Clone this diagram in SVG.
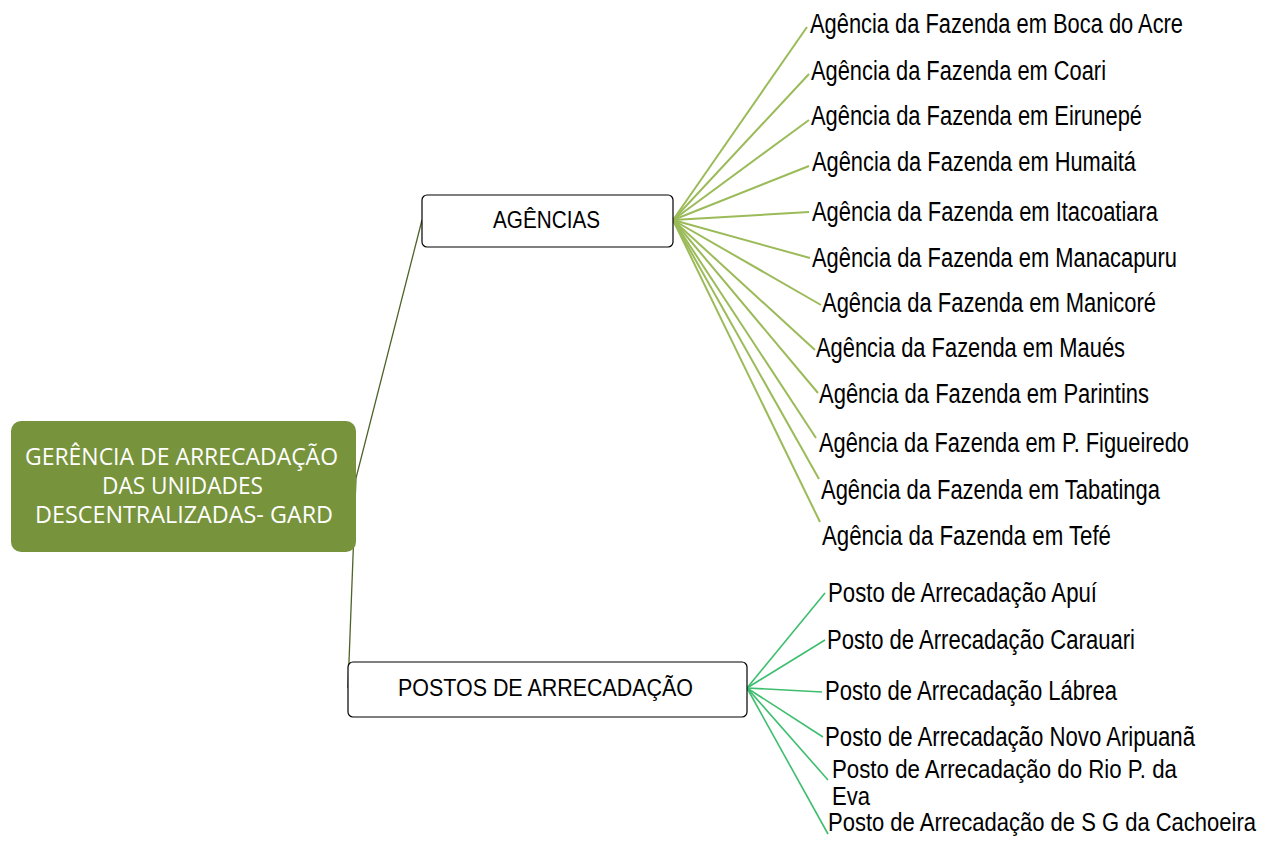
<svg xmlns="http://www.w3.org/2000/svg" width="1275" height="841" viewBox="0 0 1275 841">
<style>
.lbl{font-family:"Liberation Sans",Arial,sans-serif;font-size:27px;fill:#000}
.sm{font-size:25px}
.box{fill:#fff;stroke:#000;stroke-width:1.2}
.boxt{font-family:"Liberation Sans",Arial,sans-serif;font-size:24px;fill:#000}
.roott{font-family:"Open Sans","Noto Sans",sans-serif;font-size:23px;fill:#fff}
.ag{stroke:#9BBB59;stroke-width:2;fill:none}
.po{stroke:#3DBE6E;stroke-width:1.6;fill:none}
.trunk{stroke:#4F6228;stroke-width:1.3;fill:none}
</style>
<rect width="1275" height="841" fill="#fff"/>
<g id="connectors">
<polyline class="trunk" points="422,220 356,478 348,688"/>
<g class="ag">
<line x1="673" y1="220" x2="807" y2="27"/>
<line x1="673" y1="220" x2="809" y2="74"/>
<line x1="673" y1="220" x2="809" y2="120"/>
<line x1="673" y1="220" x2="809" y2="166"/>
<line x1="673" y1="220" x2="809" y2="212"/>
<line x1="673" y1="220" x2="810" y2="258"/>
<line x1="673" y1="220" x2="821" y2="305"/>
<line x1="673" y1="220" x2="815" y2="350"/>
<line x1="673" y1="220" x2="818" y2="393"/>
<line x1="673" y1="220" x2="816" y2="438"/>
<line x1="673" y1="220" x2="819" y2="479"/>
<line x1="673" y1="220" x2="820" y2="522"/>
</g>
<g class="po">
<line x1="747" y1="688" x2="825" y2="593"/>
<line x1="747" y1="688" x2="825" y2="640"/>
<line x1="747" y1="688" x2="822" y2="692"/>
<line x1="747" y1="688" x2="823" y2="737"/>
<line x1="747" y1="688" x2="828" y2="780"/>
<line x1="747" y1="688" x2="828" y2="834"/>
</g>
</g>
<g id="root">
<rect x="11" y="421" width="345" height="131" rx="10" fill="#77933C"/>
<text class="roott" x="25" y="465" textLength="313" lengthAdjust="spacingAndGlyphs">GERÊNCIA DE ARRECADAÇÃO</text>
<text class="roott" x="102" y="494" textLength="161" lengthAdjust="spacingAndGlyphs">DAS UNIDADES</text>
<text class="roott" x="35" y="523" textLength="298" lengthAdjust="spacingAndGlyphs">DESCENTRALIZADAS- GARD</text>
</g>
<g id="agencias">
<rect class="box" x="422" y="195" width="251" height="52" rx="5"/>
<text class="boxt" x="493" y="228" textLength="107" lengthAdjust="spacingAndGlyphs">AGÊNCIAS</text>
</g>
<g id="postos">
<rect class="box" x="348" y="662" width="399" height="55" rx="5"/>
<text class="boxt" x="398" y="696" textLength="295" lengthAdjust="spacingAndGlyphs">POSTOS DE ARRECADAÇÃO</text>
</g>
<g id="ag1"><text class="lbl" x="810" y="33" textLength="373" lengthAdjust="spacingAndGlyphs">Agência da Fazenda em Boca do Acre</text></g>
<g id="ag2"><text class="lbl" x="811" y="80" textLength="295" lengthAdjust="spacingAndGlyphs">Agência da Fazenda em Coari</text></g>
<g id="ag3"><text class="lbl" x="811" y="125" textLength="331" lengthAdjust="spacingAndGlyphs">Agência da Fazenda em Eirunepé</text></g>
<g id="ag4"><text class="lbl" x="812" y="171" textLength="324" lengthAdjust="spacingAndGlyphs">Agência da Fazenda em Humaitá</text></g>
<g id="ag5"><text class="lbl" x="812" y="221" textLength="346" lengthAdjust="spacingAndGlyphs">Agência da Fazenda em Itacoatiara</text></g>
<g id="ag6"><text class="lbl" x="812" y="267" textLength="365" lengthAdjust="spacingAndGlyphs">Agência da Fazenda em Manacapuru</text></g>
<g id="ag7"><text class="lbl" x="822" y="312" textLength="334" lengthAdjust="spacingAndGlyphs">Agência da Fazenda em Manicoré</text></g>
<g id="ag8"><text class="lbl" x="816" y="357" textLength="309" lengthAdjust="spacingAndGlyphs">Agência da Fazenda em Maués</text></g>
<g id="ag9"><text class="lbl" x="819" y="403" textLength="330" lengthAdjust="spacingAndGlyphs">Agência da Fazenda em Parintins</text></g>
<g id="ag10"><text class="lbl" x="819" y="452" textLength="370" lengthAdjust="spacingAndGlyphs">Agência da Fazenda em P.  Figueiredo</text></g>
<g id="ag11"><text class="lbl" x="821" y="499" textLength="339" lengthAdjust="spacingAndGlyphs">Agência da Fazenda em Tabatinga</text></g>
<g id="ag12"><text class="lbl" x="822" y="545" textLength="289" lengthAdjust="spacingAndGlyphs">Agência da Fazenda em Tefé</text></g>
<g id="po1"><text class="lbl" x="828" y="602" textLength="269" lengthAdjust="spacingAndGlyphs">Posto de Arrecadação Apuí</text></g>
<g id="po2"><text class="lbl" x="827" y="649" textLength="308" lengthAdjust="spacingAndGlyphs">Posto de Arrecadação Carauari</text></g>
<g id="po3"><text class="lbl" x="825" y="700" textLength="292" lengthAdjust="spacingAndGlyphs">Posto de Arrecadação Lábrea</text></g>
<g id="po4"><text class="lbl" x="825" y="746" textLength="370" lengthAdjust="spacingAndGlyphs">Posto de Arrecadação Novo Aripuanã</text></g>
<g id="po5"><text class="lbl sm" x="832" y="778" textLength="345" lengthAdjust="spacingAndGlyphs">Posto de Arrecadação do Rio P. da</text><text class="lbl sm" x="832" y="805" textLength="38" lengthAdjust="spacingAndGlyphs">Eva</text></g>
<g id="po6"><text class="lbl sm" x="828" y="831" textLength="428" lengthAdjust="spacingAndGlyphs">Posto de Arrecadação de S G da Cachoeira</text></g>
</svg>
